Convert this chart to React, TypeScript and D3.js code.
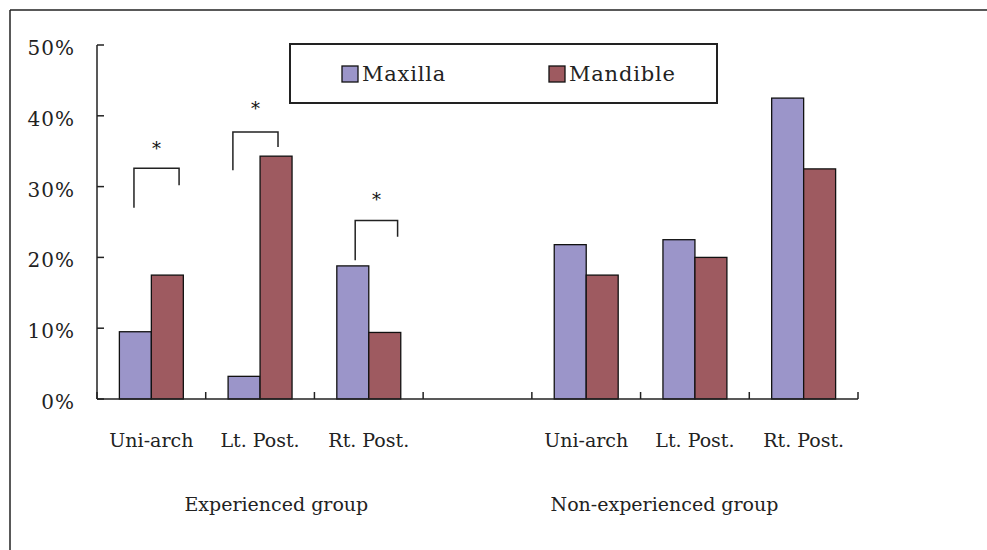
import React from 'react';
import * as d3 from 'd3';

const categories = ['E-Uni', 'E-Lt', 'E-Rt', 'gap', 'N-Uni', 'N-Lt', 'N-Rt'];
const categoryLabels = ['Uni-arch', 'Lt. Post.', 'Rt. Post.', '', 'Uni-arch', 'Lt. Post.', 'Rt. Post.'];
const series = ['Maxilla', 'Mandible'];
const maxillaValues = [9.5, 3.2, 18.8, null, 21.8, 22.5, 42.5];
const mandibleValues = [17.5, 34.3, 9.4, null, 17.5, 20.0, 32.5];
const yTicks = [0, 10, 20, 30, 40, 50];

// significance brackets: category, left/right in band fractions, heights in %
const bracketCats = ['E-Uni', 'E-Lt', 'E-Rt'];
const bracketFrom = [0.34, 0.25, 0.375];
const bracketTo = [0.755, 0.665, 0.765];
const bracketTop = [32.6, 37.7, 25.2];
const bracketLeftEnd = [27.0, 32.3, 19.6];
const bracketRightEnd = [30.2, 35.6, 22.9];
const starLevel = [36.0, 41.6, 28.7];

const groupLabels = ['Experienced group', 'Non-experienced group'];
const groupAnchor = ['E-Lt', 'N-Lt'];
const groupShift = [0.15, -0.28];

const COLORS: Record<string, string> = { Maxilla: '#9b95c9', Mandible: '#9e5a60' };
const FONT = '"DejaVu Serif", serif';

export default function App() {
  const width = 987;
  const height = 550;
  const MARGIN = { top: 45, right: 129, bottom: 151, left: 97 };
  const boundsWidth = width - MARGIN.left - MARGIN.right;
  const boundsHeight = height - MARGIN.top - MARGIN.bottom;

  const xScale = d3.scaleBand().domain(categories).range([0, boundsWidth]).padding(0);
  const xSub = d3
    .scaleBand()
    .domain(series)
    .range([0, xScale.bandwidth()])
    .paddingInner(0)
    .paddingOuter(0.7);
  const yScale = d3.scaleLinear().domain([0, 50]).range([boundsHeight, 0]);

  const bars = categories.map((c, i) => {
    const x0 = xScale(c) ?? 0;
    const vals = [maxillaValues[i], mandibleValues[i]];
    return (
      <g key={c}>
        {series.map((s, j) => {
          const v = vals[j];
          if (v === null) return null;
          return (
            <rect
              key={s}
              x={x0 + (xSub(s) ?? 0)}
              y={yScale(v)}
              width={xSub.bandwidth()}
              height={boundsHeight - yScale(v)}
              fill={COLORS[s]}
              stroke="#111"
              strokeWidth={1.3}
            />
          );
        })}
      </g>
    );
  });

  const brackets = bracketCats.map((c, i) => {
    const x0 = xScale(c) ?? 0;
    const bw = xScale.bandwidth();
    const xl = x0 + bw * bracketFrom[i];
    const xr = x0 + bw * bracketTo[i];
    const path = d3.path();
    path.moveTo(xl, yScale(bracketLeftEnd[i]));
    path.lineTo(xl, yScale(bracketTop[i]));
    path.lineTo(xr, yScale(bracketTop[i]));
    path.lineTo(xr, yScale(bracketRightEnd[i]));
    return (
      <g key={c}>
        <path d={path.toString()} fill="none" stroke="#222" strokeWidth={1.5} />
        <text
          x={(xl + xr) / 2}
          y={yScale(starLevel[i])}
          textAnchor="middle"
          dominantBaseline="central"
          fontSize={18}
          fontFamily={FONT}
          fill="#111"
          dy={4}
        >
          *
        </text>
      </g>
    );
  });

  const yAxis = yTicks.map((t) => (
    <g key={t} transform={`translate(0,${yScale(t)})`}>
      <line x1={0} x2={7} stroke="#222" strokeWidth={1.5} />
      <text
        x={-22}
        textAnchor="end"
        dominantBaseline="central"
        fontSize={20}
        fontFamily={FONT}
        letterSpacing={1}
        fill="#222"
        dy={3}
      >
        {t}%
      </text>
    </g>
  ));

  const xTicks = [...categories.map((c) => xScale(c) ?? 0), boundsWidth];

  return (
    <svg
      width={width}
      height={height}
      style={{ position: 'absolute', left: 0, top: 0, background: '#fff' }}
    >
      {/* outer frame */}
      <line x1={10} x2={width} y1={10} y2={10} stroke="#222" strokeWidth={1.5} />
      <line x1={10} x2={10} y1={10} y2={height} stroke="#222" strokeWidth={1.5} />
      <g transform={`translate(${MARGIN.left},${MARGIN.top})`}>
        {bars}
        <line x1={0} x2={0} y1={0} y2={boundsHeight} stroke="#222" strokeWidth={1.5} />
        <line x1={0} x2={boundsWidth} y1={boundsHeight} y2={boundsHeight} stroke="#222" strokeWidth={1.5} />
        {xTicks.map((x, i) => (
          <line key={i} x1={x} x2={x} y1={boundsHeight} y2={boundsHeight - 7} stroke="#222" strokeWidth={1.5} />
        ))}
        {yAxis}
        {categories.map((c, i) => (
          <text
            key={c}
            x={(xScale(c) ?? 0) + xScale.bandwidth() / 2}
            y={boundsHeight + 48}
            textAnchor="middle"
            fontSize={19}
            fontFamily={FONT}
            fill="#222"
          >
            {categoryLabels[i]}
          </text>
        ))}
        {groupLabels.map((g, i) => (
          <text
            key={g}
            x={(xScale(groupAnchor[i]) ?? 0) + xScale.bandwidth() * (0.5 + groupShift[i])}
            y={boundsHeight + 112}
            textAnchor="middle"
            fontSize={19}
            fontFamily={FONT}
            fill="#222"
          >
            {g}
          </text>
        ))}
        {brackets}
      </g>
      {/* legend */}
      <g transform="translate(290,44)">
        <rect x={0} y={0} width={427} height={59} fill="#fff" stroke="#222" strokeWidth={2} />
        {series.map((s, i) => (
          <g key={s} transform={`translate(${52 + i * 207},22)`}>
            <rect x={0} y={0} width={16} height={16} fill={COLORS[s]} stroke="#111" strokeWidth={1.3} />
            <text x={20} y={15} fontSize={21} fontFamily={FONT} fill="#222" letterSpacing={0.8}>
              {s}
            </text>
          </g>
        ))}
      </g>
    </svg>
  );
}
